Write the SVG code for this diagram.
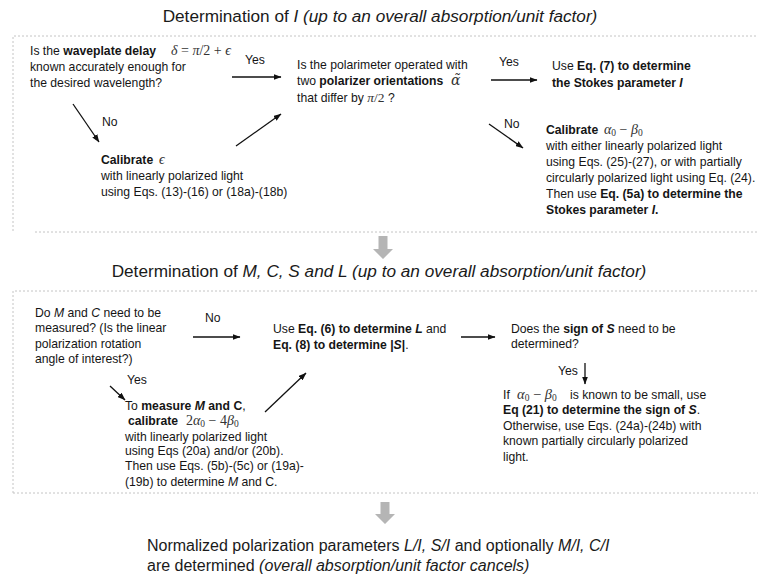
<svg xmlns="http://www.w3.org/2000/svg" width="758" height="574" viewBox="0 0 758 574">
<defs>
<marker id="ah" markerWidth="8" markerHeight="6" refX="7.5" refY="3" orient="auto" markerUnits="userSpaceOnUse"><path d="M0,0 L8,3 L0,6 z" fill="#111"/></marker>
<style>
.t{font-family:"Liberation Sans",Arial,sans-serif;font-size:12.2px;fill:#151515}
.b{font-weight:bold}
.i{font-style:italic}
.m{font-family:"Liberation Serif","Times New Roman",serif;font-style:italic;font-size:14px;fill:#333}
.mu{font-family:"Liberation Serif","Times New Roman",serif;font-style:normal}
.sub{font-size:9.5px}
.h{font-family:"Liberation Sans",Arial,sans-serif;font-size:17.2px;fill:#1a1a1a}
.frame{fill:none;stroke:#c4c4c4;stroke-width:1;stroke-dasharray:2 2}
.c{stroke:#111;stroke-width:1.3;fill:none;marker-end:url(#ah)}
.big{fill:#b5b5b5}
</style>
</defs>
<rect width="758" height="574" fill="#ffffff"/>

<!-- frames -->
<path class="frame" d="M13,231 V36 H770 M35,232 H770"/>
<path class="frame" d="M13,493 V291 H770 M13,493 H770"/>

<!-- headings -->
<text class="h" x="380" y="22" text-anchor="middle">Determination of <tspan class="i">I (up to an overall absorption/unit factor)</tspan></text>
<text class="h" x="379" y="277" text-anchor="middle">Determination of <tspan class="i">M, C, S and L (up to an overall absorption/unit factor)</tspan></text>
<text class="h" x="147" y="551" style="font-size:16px">Normalized polarization parameters <tspan class="i">L/I, S/I</tspan> and optionally <tspan class="i">M/I, C/I</tspan></text>
<text class="h" x="147" y="571" style="font-size:16px">are determined <tspan class="i">(overall absorption/unit factor cancels)</tspan></text>

<!-- big gray arrows -->
<polygon class="big" points="378.5,236 387.5,236 387.5,249 393,249 383,259 373,249 378.5,249"/>
<polygon class="big" points="380.5,502 389.5,502 389.5,514 395,514 385,524 375,514 380.5,514"/>

<!-- Stage 1 nodes -->
<g id="q-waveplate">
<text class="t" x="30" y="55">Is the <tspan class="b">waveplate delay</tspan></text>
<text class="m" x="171" y="55">δ <tspan class="mu">=</tspan> π<tspan class="mu">/2 + </tspan>ϵ</text>
<text class="t" x="30" y="71">known accurately enough for</text>
<text class="t" x="30" y="87">the desired wavelength?</text>
</g>
<g id="calib-eps">
<text class="t" x="101" y="164"><tspan class="b">Calibrate</tspan></text>
<text class="m" x="159" y="164">ϵ</text>
<text class="t" x="101" y="180">with linearly polarized light</text>
<text class="t" x="101" y="196">using Eqs. (13)-(16) or (18a)-(18b)</text>
</g>
<g id="q-polarizer">
<text class="t" x="297" y="69">Is the polarimeter operated with</text>
<text class="t" x="297" y="85">two <tspan class="b">polarizer orientations</tspan></text>
<text x="451" y="85" style="font-family:'DejaVu Serif',serif;font-style:italic;font-size:14px;fill:#333">α̃</text>
<text class="t" x="297" y="102">that differ by <tspan class="m" style="font-size:13.5px">π<tspan class="mu">/2</tspan></tspan> ?</text>
</g>
<g id="use-eq7">
<text class="t" x="552" y="70">Use <tspan class="b">Eq. (7) to determine</tspan></text>
<text class="t b" x="552" y="87">the Stokes parameter <tspan class="i">I</tspan></text>
</g>
<g id="calib-ab">
<text class="t" x="546" y="134"><tspan class="b">Calibrate</tspan></text>
<text class="m" x="604" y="134">α<tspan class="mu sub" dy="2">0</tspan><tspan class="mu" dy="-2"> − </tspan>β<tspan class="mu sub" dy="2">0</tspan></text>
<text class="t" x="546" y="150">with either linearly polarized light</text>
<text class="t" x="546" y="166">using Eqs. (25)-(27),  or with partially</text>
<text class="t" x="546" y="182">circularly polarized light using Eq. (24).</text>
<text class="t" x="546" y="198">Then use <tspan class="b">Eq. (5a) to determine the</tspan></text>
<text class="t b" x="546" y="214">Stokes parameter <tspan class="i">I</tspan>.</text>
</g>

<!-- Stage 2 nodes -->
<g id="q-mc">
<text class="t" x="35" y="317">Do <tspan class="i">M</tspan> and <tspan class="i">C</tspan> need to be</text>
<text class="t" x="35" y="332">measured? (Is the linear</text>
<text class="t" x="35" y="348">polarization rotation</text>
<text class="t" x="35" y="363">angle of interest?)</text>
</g>
<g id="measure-mc">
<text class="t" x="125" y="410">To <tspan class="b">measure <tspan class="i">M</tspan> and C</tspan>,</text>
<text class="t" x="128" y="425"><tspan class="b">calibrate</tspan></text>
<text class="m" x="186" y="425"><tspan class="mu">2</tspan>α<tspan class="mu sub" dy="2">0</tspan><tspan class="mu" dy="-2"> − 4</tspan>β<tspan class="mu sub" dy="2">0</tspan></text>
<text class="t" x="125" y="441">with linearly polarized light</text>
<text class="t" x="125" y="455">using Eqs (20a) and/or (20b).</text>
<text class="t" x="125" y="470">Then use Eqs. (5b)-(5c) or (19a)-</text>
<text class="t" x="125" y="486">(19b) to determine <tspan class="i">M</tspan> and C.</text>
</g>
<g id="use-eq6">
<text class="t" x="273" y="333">Use <tspan class="b">Eq. (6) to determine <tspan class="i">L</tspan></tspan> and</text>
<text class="t" x="273" y="349"><tspan class="b">Eq. (8) to determine |<tspan class="i">S</tspan>|</tspan>.</text>
</g>
<g id="q-sign">
<text class="t" x="511" y="333">Does the <tspan class="b">sign of <tspan class="i">S</tspan></tspan> need to be</text>
<text class="t" x="511" y="348">determined?</text>
</g>
<g id="sign-s">
<text class="t" x="503" y="399">If</text>
<text class="m" x="517" y="399" style="font-size:14.5px">α<tspan class="mu sub" dy="2">0</tspan><tspan class="mu" dy="-2"> − </tspan>β<tspan class="mu sub" dy="2">0</tspan></text>
<text class="t" x="570" y="399">is known to be small, use</text>
<text class="t" x="503" y="414"><tspan class="b">Eq (21) to determine the sign of <tspan class="i">S</tspan></tspan>.</text>
<text class="t" x="503" y="430">Otherwise, use Eqs. (24a)-(24b) with</text>
<text class="t" x="503" y="445">known partially circularly polarized</text>
<text class="t" x="503" y="461">light.</text>
</g>

<!-- connectors -->
<g id="connectors">
<line class="c" x1="232" y1="77" x2="281" y2="77"/>
<line class="c" x1="73" y1="104" x2="99" y2="142"/>
<line class="c" x1="236" y1="146" x2="281" y2="114"/>
<line class="c" x1="491" y1="80" x2="537" y2="80"/>
<line class="c" x1="489" y1="124" x2="523" y2="148"/>
<line class="c" x1="193" y1="337" x2="240" y2="337"/>
<line class="c" x1="110" y1="386" x2="125" y2="400"/>
<line class="c" x1="265" y1="412" x2="306" y2="373"/>
<line class="c" x1="461" y1="337" x2="495" y2="337"/>
<line class="c" x1="585" y1="363" x2="585" y2="384"/>
<text class="t" x="245" y="64">Yes</text>
<text class="t" x="102" y="126">No</text>
<text class="t" x="499" y="66">Yes</text>
<text class="t" x="504" y="128">No</text>
<text class="t" x="205" y="322">No</text>
<text class="t" x="127" y="384">Yes</text>
<text class="t" x="558" y="375">Yes</text>
</g>
</svg>
